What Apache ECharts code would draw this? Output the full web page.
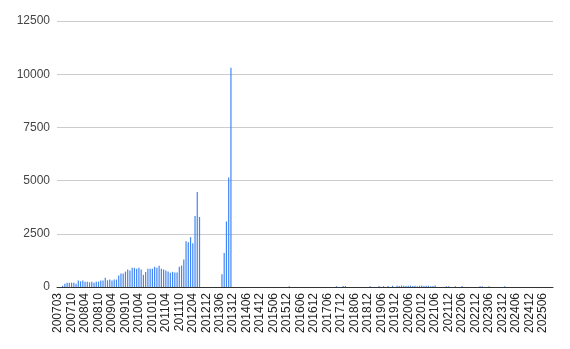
<!DOCTYPE html>
<html>
<head>
<meta charset="utf-8">
<script src="https://cdn.jsdelivr.net/npm/echarts@6/dist/echarts.min.js"></script>
<style>
html,body{margin:0;padding:0;background:#fff;}
#chart{width:570px;height:349px;}
</style>
</head>
<body>
<div id="chart"></div>
<script>
var months = [
"200703","200705","200706","200707","200708","200709","200710","200711","200712",
"200801","200802","200803","200804","200805","200806","200807","200808","200809","200810","200811","200812",
"200901","200902","200903","200904","200905","200906","200907","200908","200909","200910","200911","200912",
"201001","201002","201003","201004","201005","201006","201007","201008","201009","201010","201011","201012",
"201101","201102","201103","201104","201105","201106","201107","201108","201109","201110","201111","201112",
"201201","201202","201203","201204","201205","201206","201207","201208","201211","201212",
"201301","201302","201303","201304","201305","201306","201307","201308","201309","201310","201311","201312",
"201401","201402","201403","201404","201405","201406","201407","201408","201409","201410","201411","201412",
"201501","201502","201503","201504","201505","201506","201507","201508","201509","201510","201511","201512",
"201601","201602","201603","201604","201605","201606","201607","201608","201609","201610","201611","201612",
"201701","201702","201703","201704","201705","201706","201707","201708","201709","201710","201711","201712",
"201801","201802","201803","201804","201805","201806","201807","201808","201809","201810","201811","201812",
"201901","201902","201903","201904","201905","201906","201907","201908","201909","201910","201911","201912",
"202001","202002","202003","202004","202005","202006","202007","202008","202009","202010","202011","202012",
"202101","202102","202103","202104","202105","202106","202107","202108","202109","202110","202111","202112",
"202201","202202","202203","202204","202205","202206","202207","202208","202209","202210","202211","202212",
"202301","202302","202303","202304","202305","202306","202307","202308","202309","202310","202311","202312",
"202401","202402","202403","202404","202405","202406","202407","202408","202409","202410","202411","202412",
"202501","202502","202503","202504","202505","202506","202507","202508","202509","202510"
];

var values = [
0,0,63,157,205,205,205,205,157,300,
267,300,250,250,220,250,205,250,250,300,
300,440,315,350,300,350,350,535,630,630,
725,820,775,900,900,853,900,820,570,710,
853,853,853,948,900,995,853,820,775,727,
664,710,680,680,948,1010,1296,2150,2100,2340,
2055,3335,4470,3290,0,0,0,0,0,0,
0,0,0,594,1594,3078,5140,10300,0,0,
0,0,0,0,0,0,0,0,0,0,
0,0,0,0,0,0,0,0,0,0,
0,0,0,40,0,0,0,0,0,0,
0,0,0,0,0,0,0,0,0,0,
0,0,0,0,40,0,0,50,50,0,
0,0,0,0,0,0,0,0,0,40,
0,0,0,50,0,40,0,50,0,60,
0,60,50,70,60,50,60,70,50,60,
40,60,70,50,60,60,40,50,70,0,
0,0,0,40,40,0,0,40,0,0,
50,0,0,0,0,0,0,0,40,40,
0,0,30,0,0,0,0,0,0,30,
0,0,0,0,0,0,0,0,0,0,
0,0,0,0,0,0,0,0,0,0,
0
];

var yTicks = [0, 2500, 5000, 7500, 10000, 12500];

var chart = echarts.init(document.getElementById('chart'), null, {renderer: 'canvas'});
chart.setOption({
  animation: false,
  backgroundColor: '#ffffff',
  grid: {left: 57, right: 17, top: 21, bottom: 62, containLabel: false},
  xAxis: {
    type: 'category',
    data: months,
    boundaryGap: true,
    axisLine: {show: true, lineStyle: {color: '#333333', width: 1}},
    axisTick: {show: false},
    axisLabel: {
      interval: 5,
      rotate: 90,
      margin: 6,
      color: '#222222',
      fontFamily: 'Liberation Sans, Arial, sans-serif',
      fontSize: 12
    },
    splitLine: {show: false}
  },
  yAxis: {
    type: 'value',
    min: yTicks[0],
    max: yTicks[yTicks.length - 1],
    interval: 2500,
    axisLine: {show: false},
    axisTick: {show: false},
    axisLabel: {
      margin: 7,
      color: '#444444',
      fontFamily: 'Liberation Sans, Arial, sans-serif',
      fontSize: 12,
      formatter: function (v) { return String(v); }
    },
    splitLine: {show: true, lineStyle: {color: '#cccccc', width: 1}}
  },
  series: [{
    type: 'bar',
    data: values,
    barWidth: 1.2,
    itemStyle: {color: '#4285f4'},
    silent: true
  }]
});
</script>
</body>
</html>
